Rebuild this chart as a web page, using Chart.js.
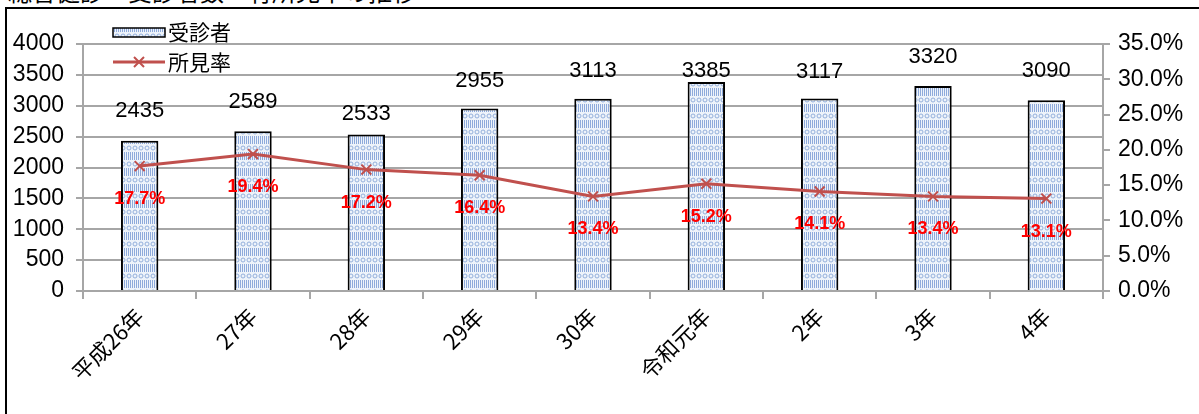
<!DOCTYPE html>
<html lang="ja">
<head>
<meta charset="utf-8">
<script src="https://cdn.jsdelivr.net/npm/chart.js@4"></script>
<style>
  html, body { margin: 0; padding: 0; background: #fff; overflow: hidden; }
  #wrap { position: relative; width: 1199px; height: 414px; overflow: hidden; }
  #title { position: absolute; left: 8px; top: -27px; font: 24px "Noto Sans CJK JP", sans-serif; color: #000; white-space: nowrap; }
  #frame { position: absolute; left: 5px; top: 7px; width: 1300px; height: 500px; border-left: 2px solid #000; border-top: 2px solid #000; }
  #grafico { position: absolute; left: 0; top: 0; }
</style>
</head>
<body>
<div id="wrap">
  <div id="title">総合健診　受診者数・有所見率の推移</div>
  <div id="frame"></div>
  <canvas id="grafico" width="1199" height="414"></canvas>
</div>
<script>
const anos = ['平成26年', '27年', '28年', '29年', '30年', '令和元年', '2年', '3年', '4年'];
const pacientes = [2435, 2589, 2533, 2955, 3113, 3385, 3117, 3320, 3090];
const taxaAchados = [17.7, 19.4, 17.2, 16.4, 13.4, 15.2, 14.1, 13.4, 13.1];
const ticksEsq = [0, 500, 1000, 1500, 2000, 2500, 3000, 3500, 4000];
const ticksDir = [0, 5, 10, 15, 20, 25, 30, 35];

const fonteNum = '"Liberation Sans", "Noto Sans CJK JP", sans-serif';
const fonteJp = '"Noto Sans CJK JP", "Liberation Sans", sans-serif';
const vermelho = '#c0504d';
const grade = '#a6a6a6';

// textura das barras: anéis em cima, listras verticais embaixo
function criaTextura() {
    const c = document.createElement('canvas');
    c.width = 6; c.height = 16;
    const g = c.getContext('2d');
    g.fillStyle = '#eef3fa';
    g.fillRect(0, 0, 6, 16);
    g.strokeStyle = '#93afdc';
    g.lineWidth = 1;
    g.beginPath(); g.arc(3, 4, 2, 0, Math.PI * 2); g.stroke();
    g.fillStyle = '#8eaadb';
    g.fillRect(0, 8, 1, 8);
    g.fillRect(2, 8, 1, 8);
    g.fillRect(4, 8, 1, 8);
    return g.createPattern(c, 'repeat');
}
const textura = criaTextura();

// deslocamento dos rótulos das barras (como no original)
const elevacao = [30, 29, 21, 28, 28, 11, 27, 29, 29];

const rotulos = {
    id: 'rotulos',
    afterDatasetsDraw(chart) {
        const ctx = chart.ctx;
        ctx.save();
        ctx.textAlign = 'center';
        ctx.textBaseline = 'middle';
        const barras = chart.getDatasetMeta(0).data;
        ctx.font = '22px ' + fonteNum;
        ctx.fillStyle = '#000';
        barras.forEach((b, i) => ctx.fillText(String(pacientes[i]), b.x, b.y - elevacao[i]));
        const pontos = chart.getDatasetMeta(1).data;
        ctx.font = 'bold 18px ' + fonteNum;
        ctx.fillStyle = '#ff0000';
        pontos.forEach((p, i) => ctx.fillText(taxaAchados[i].toFixed(1) + '%', p.x, p.y + 33));
        ctx.restore();
    }
};

const legenda = {
    id: 'legenda',
    afterDraw(chart) {
        const ctx = chart.ctx;
        ctx.save();
        ctx.fillStyle = textura;
        ctx.fillRect(113, 28, 52, 9);
        ctx.strokeStyle = '#000';
        ctx.lineWidth = 1.5;
        ctx.strokeRect(113, 28, 52, 9);
        ctx.strokeStyle = vermelho;
        ctx.lineWidth = 3;
        ctx.beginPath(); ctx.moveTo(113, 62); ctx.lineTo(165, 62); ctx.stroke();
        ctx.lineWidth = 2;
        ctx.beginPath();
        ctx.moveTo(134, 57); ctx.lineTo(144, 67);
        ctx.moveTo(144, 57); ctx.lineTo(134, 67);
        ctx.stroke();
        ctx.fillStyle = '#000';
        ctx.font = '21px ' + fonteJp;
        ctx.textBaseline = 'middle';
        ctx.fillText('受診者', 168, 32);
        ctx.fillText('所見率', 168, 62);
        ctx.restore();
    }
};

new Chart(document.getElementById('grafico'), {
    type: 'bar',
    data: {
        labels: anos,
        datasets: [{
            label: '受診者',
            data: pacientes,
            yAxisID: 'y',
            backgroundColor: textura,
            borderColor: '#000',
            borderWidth: 2,
            barPercentage: 0.33,
            categoryPercentage: 1,
            order: 1
        }, {
            type: 'line',
            label: '所見率',
            data: taxaAchados,
            yAxisID: 'y1',
            borderColor: vermelho,
            borderWidth: 3,
            pointStyle: 'crossRot',
            pointRadius: 7,
            pointBorderWidth: 2,
            pointBorderColor: vermelho,
            tension: 0,
            order: 0
        }]
    },
    options: {
        responsive: false,
        animation: false,
        layout: { padding: { top: 44, left: 0, right: 0, bottom: 0 } },
        plugins: {
            legend: { display: false },
            tooltip: { enabled: false },
            title: { display: false }
        },
        scales: {
            x: {
                grid: { drawOnChartArea: false, offset: true, color: grade, lineWidth: 2, tickLength: 8 },
                border: { color: grade, width: 2 },
                ticks: {
                    color: '#000',
                    font: { family: fonteJp, size: 22 },
                    maxRotation: 45, minRotation: 45,
                    autoSkip: false,
                    padding: 4
                },
                afterFit: s => { s.height = 123; }
            },
            y: {
                position: 'left',
                min: 0, max: 4000,
                afterBuildTicks: s => { s.ticks = ticksEsq.map(v => ({ value: v })); },
                grid: { color: grade, lineWidth: 2, tickLength: 7 },
                border: { color: grade, width: 2 },
                ticks: { color: '#000', font: { family: fonteNum, size: 23 }, padding: 12, callback: v => String(v) },
                afterFit: s => { s.width = 83; }
            },
            y1: {
                position: 'right',
                min: 0, max: 35,
                afterBuildTicks: s => { s.ticks = ticksDir.map(v => ({ value: v })); },
                grid: { drawOnChartArea: false, color: grade, lineWidth: 2, tickLength: 7 },
                border: { color: grade, width: 2 },
                ticks: {
                    color: '#000',
                    font: { family: fonteNum, size: 23 },
                    padding: 8,
                    callback: v => v.toFixed(1) + '%'
                },
                afterFit: s => { s.width = 96; }
            }
        }
    },
    plugins: [rotulos, legenda]
});
</script>
</body>
</html>
